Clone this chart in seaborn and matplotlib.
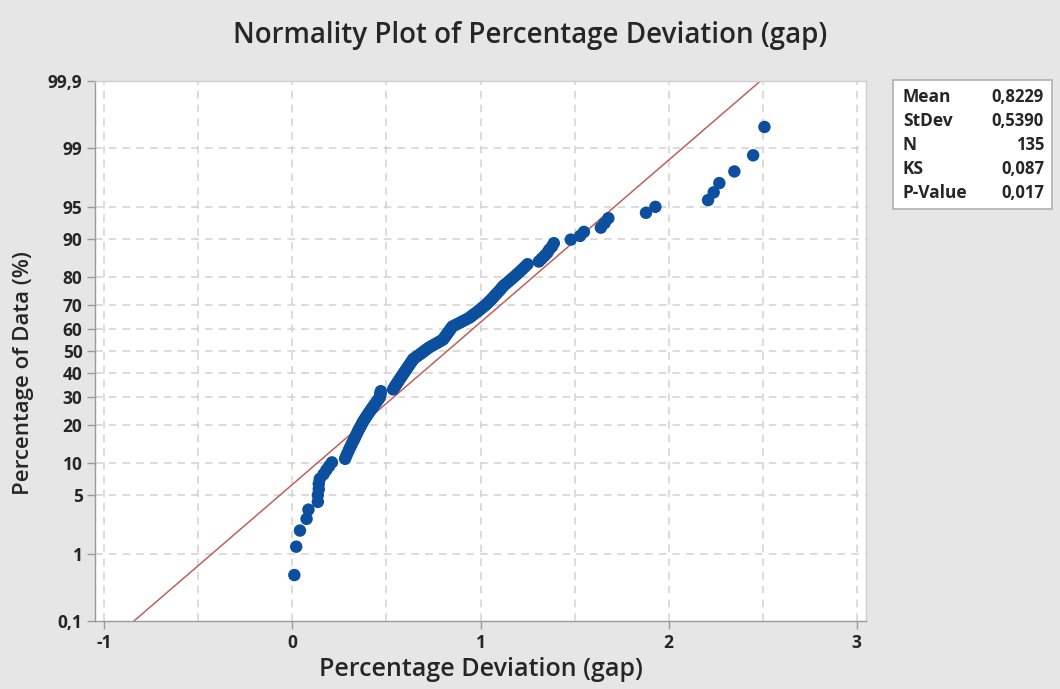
import matplotlib
matplotlib.use("Agg")
import matplotlib.pyplot as plt
import seaborn as sns
import numpy as np
import pandas as pd
from statistics import NormalDist

# ---- data (sorted gap values) ----
gap_values = [
    0.010, 0.020, 0.040, 0.075, 0.085, 0.135, 0.135, 0.140, 0.140, 0.145,
    0.165, 0.180, 0.195, 0.210, 0.280, 0.287, 0.295, 0.302, 0.310, 0.317,
    0.325, 0.332, 0.338, 0.345, 0.351, 0.358, 0.365, 0.371, 0.378, 0.386,
    0.393, 0.401, 0.408, 0.416, 0.423, 0.431, 0.438, 0.446, 0.453, 0.461,
    0.465, 0.467, 0.468, 0.470, 0.535, 0.541, 0.547, 0.553, 0.559, 0.565,
    0.571, 0.577, 0.583, 0.589, 0.595, 0.601, 0.607, 0.613, 0.619, 0.625,
    0.631, 0.637, 0.642, 0.654, 0.666, 0.678, 0.690, 0.701, 0.713, 0.724,
    0.739, 0.754, 0.770, 0.785, 0.800, 0.806, 0.813, 0.819, 0.825, 0.832,
    0.838, 0.844, 0.851, 0.869, 0.887, 0.904, 0.922, 0.940, 0.952, 0.964,
    0.977, 0.989, 1.001, 1.013, 1.025, 1.036, 1.046, 1.056, 1.066, 1.075,
    1.085, 1.095, 1.105, 1.114, 1.124, 1.138, 1.152, 1.166, 1.180, 1.194,
    1.208, 1.222, 1.236, 1.250, 1.310, 1.325, 1.340, 1.355, 1.365, 1.380,
    1.390, 1.480, 1.530, 1.550, 1.640, 1.660, 1.680, 1.880, 1.930, 2.210,
    2.240, 2.270, 2.350, 2.450, 2.510,
]

stat_labels = ["Mean", "StDev", "N", "KS", "P-Value"]
stat_values = ["0,8229", "0,5390", "135", "0,087", "0,017"]
fit_mean = 0.8229
fit_sd = 0.5390

y_tick_percent = [0.1, 1, 5, 10, 20, 30, 40, 50, 60, 70, 80, 90, 95, 99, 99.9]
y_tick_labels = ["0,1", "1", "5", "10", "20", "30", "40", "50", "60", "70",
                 "80", "90", "95", "99", "99,9"]
x_ticks = [-1, 0, 1, 2, 3]
x_tick_labels = ["-1", "0", "1", "2", "3"]

# ---- derived ----
nd = NormalDist()
n = len(gap_values)
ranks = np.arange(1, n + 1)
probs = (ranks - 0.3) / (n + 0.4)
zq = np.array([nd.inv_cdf(p) for p in probs])
df = pd.DataFrame({"gap": gap_values, "z": zq})

z_lo, z_hi = nd.inv_cdf(0.001), nd.inv_cdf(0.999)
line_df = pd.DataFrame({"z": [z_lo, z_hi]})
line_df["x"] = fit_mean + fit_sd * line_df["z"]

sns.set_theme(style="white")
plt.rcParams["font.family"] = ["Open Sans", "DejaVu Sans"]

BG = "#e6e6e6"
TXT = "#262626"
fig = plt.figure(figsize=(10.6, 6.89), dpi=100, facecolor=BG)
ax = fig.add_axes([95 / 1060, 1 - 621 / 689, (866 - 95) / 1060, (621 - 81) / 689])
ax.set_facecolor("white")

# grid
for xv in np.arange(-1, 3.01, 0.5):
    ax.axvline(xv, color="#d2d2d2", lw=1.1, ls=(0, (5, 4)), zorder=0)
for p in y_tick_percent[1:-1]:
    ax.axhline(nd.inv_cdf(p / 100), color="#d2d2d2", lw=1.1, ls=(0, (5, 4)), zorder=0)

sns.lineplot(data=line_df, x="x", y="z", ax=ax, color="#c0605a", lw=1.1,
             zorder=2, sort=False)
sns.scatterplot(data=df, x="gap", y="z", ax=ax, color="#0b4f9e", s=80,
                edgecolor="none", linewidth=0, zorder=3)

ax.set_xlim(-1.05, 3.05)
ax.set_ylim(z_lo, z_hi)
ax.set_xticks(x_ticks)
ax.set_xticklabels(x_tick_labels)
ax.set_yticks([nd.inv_cdf(p / 100) for p in y_tick_percent])
ax.set_yticklabels(y_tick_labels)
ax.tick_params(axis="both", which="major", length=6, width=1, color="#9a9a9a",
               labelsize=12.5, labelcolor=TXT, pad=3, direction="out",
               left=True, bottom=True)
for lab in ax.get_xticklabels() + ax.get_yticklabels():
    lab.set_fontweight("bold")

for side in ["left", "bottom"]:
    ax.spines[side].set_color("#9a9a9a")
    ax.spines[side].set_linewidth(1)
for side in ["top", "right"]:
    ax.spines[side].set_color("#cfcfcf")
    ax.spines[side].set_linewidth(1)

ax.set_xlabel("Percentage Deviation (gap)", fontsize=18, color=TXT, labelpad=4,
              fontweight="semibold")
ax.set_ylabel("Percentage of Data (%)", fontsize=16, color=TXT,
              fontweight="semibold")
ax.yaxis.set_label_coords(-0.079, (621 - 373) / (621 - 81))
fig.text(530 / 1060, 1 - 35 / 689, "Normality Plot of Percentage Deviation (gap)",
         ha="center", va="center", fontsize=20, color=TXT, fontweight="semibold")

# stats box
box = plt.Rectangle((893 / 1060, 1 - 209 / 689), (1052 - 893) / 1060, (209 - 80) / 689,
                    transform=fig.transFigure, facecolor="white",
                    edgecolor="#b0b0b0", lw=1.2)
fig.add_artist(box)
for k, (lab, val) in enumerate(zip(stat_labels, stat_values)):
    yy = 1 - (97 + 24 * k) / 689
    fig.text(903 / 1060, yy, lab, ha="left", va="center", fontsize=12.5,
             fontweight="bold", color=TXT)
    fig.text(1044 / 1060, yy, val, ha="right", va="center", fontsize=12,
             fontweight="bold", color=TXT)

fig.savefig("out.png", dpi=100, facecolor=BG)
